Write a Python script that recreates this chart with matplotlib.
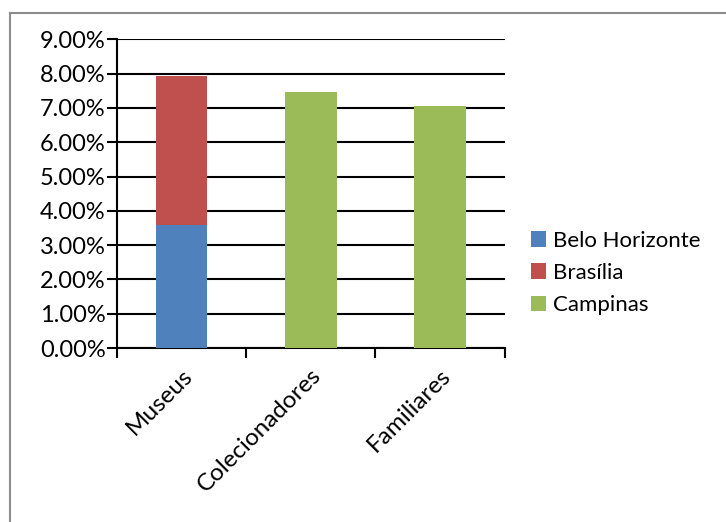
import matplotlib.pyplot as plt
from matplotlib.lines import Line2D
from matplotlib.ticker import PercentFormatter, FixedLocator

plt.rcParams['font.family'] = ['Lato', 'DejaVu Sans']

categories = ['Museus', 'Colecionadores', 'Familiares']
series_names = ['Belo Horizonte', 'Brasília', 'Campinas']
belo_horizonte = [0.0360, 0.0, 0.0]
brasilia = [0.0432, 0.0, 0.0]
campinas = [0.0, 0.0747, 0.0707]
colors = ['#4F81BD', '#C0504D', '#9BBB59']

fig = plt.figure(figsize=(7.26, 5.22), dpi=100)
ax = fig.add_axes([0.161, 0.3333, 0.534, 0.5914])

x = range(len(categories))
bottom = [0.0] * len(categories)
for name, vals, col in zip(series_names, [belo_horizonte, brasilia, campinas], colors):
    ax.bar(x, vals, width=0.4, bottom=bottom, color=col, label=name, zorder=3)
    bottom = [b + v for b, v in zip(bottom, vals)]

ax.set_xlim(-0.5, 2.5)
ax.set_ylim(0, 0.09)
ax.set_yticks([i / 100 for i in range(10)])
ax.yaxis.set_major_formatter(PercentFormatter(xmax=1, decimals=2))
ax.yaxis.grid(True, color='black', linewidth=1.5, zorder=0)
ax.set_axisbelow(True)

# category boundaries carry the tick marks, names sit at the centres
ax.xaxis.set_major_locator(FixedLocator([-0.5, 0.5, 1.5, 2.5]))
ax.xaxis.set_major_formatter(plt.NullFormatter())
ax.xaxis.set_minor_locator(FixedLocator(list(x)))
ax.set_xticklabels(categories, minor=True, rotation=45, ha='right',
                   rotation_mode='anchor', fontsize=17.5)
ax.tick_params(axis='x', which='minor', length=0, pad=12)
ax.tick_params(axis='x', which='major', direction='out', length=7, width=1.5)
ax.tick_params(axis='y', direction='out', length=7, width=1.5, labelsize=17, pad=1)

for side in ['top', 'right']:
    ax.spines[side].set_visible(False)
for side in ['left', 'bottom']:
    ax.spines[side].set_linewidth(1.5)

fig.legend(loc='center left', bbox_to_anchor=(0.716, 0.477), frameon=False,
           fontsize=16, handlelength=0.7, handleheight=0.7,
           handletextpad=0.3, labelspacing=0.55, borderpad=0)

# chart area frame
fig.add_artist(Line2D([10 / 726, 1], [1 - 13 / 522, 1 - 13 / 522],
                      transform=fig.transFigure, color='#8c8c8c', linewidth=1.5))
fig.add_artist(Line2D([10 / 726, 10 / 726], [0, 1 - 13 / 522],
                      transform=fig.transFigure, color='#8c8c8c', linewidth=1.5))

fig.savefig('out.png', dpi=100)
